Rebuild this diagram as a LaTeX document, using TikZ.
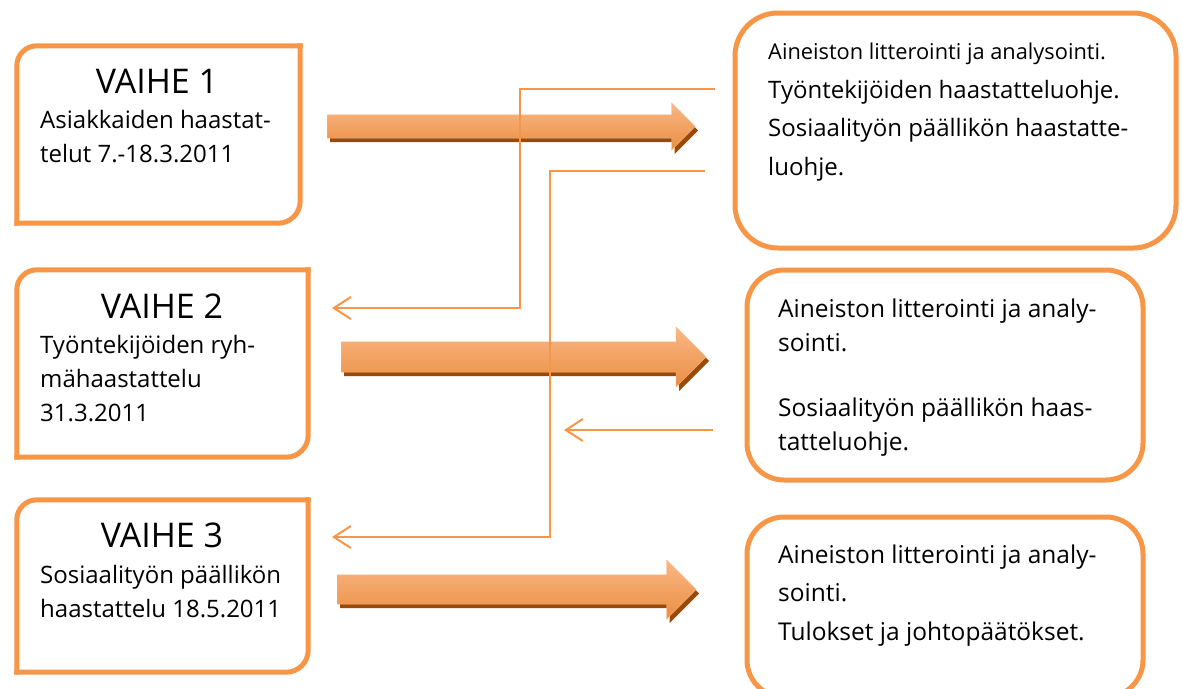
\documentclass[tikz,border=0pt]{standalone}
\usepackage{fontspec}
\setmainfont{Open Sans}
\usetikzlibrary{arrows.meta,positioning,shapes.arrows,shadows}
\definecolor{vorange}{HTML}{F79646}
\definecolor{vlight}{HTML}{FAB785}
\definecolor{vshadow}{HTML}{9A4A08}

\begin{document}
\begin{tikzpicture}[x=1pt, y=-1pt,
  frame/.style={draw=vorange, line width=5pt},
  lbox/.style={rectangle, minimum width=291, minimum height=187, inner sep=0pt},
  rbox/.style={frame, rectangle, inner sep=0pt},
  head/.style={anchor=base, font=\fontsize{34}{36}\selectfont},
  body/.style={anchor=base west, align=left, inner sep=0pt,
               font=\fontsize{24}{34}\selectfont},
  bigarrow/.style={single arrow, single arrow head indent=0pt, inner sep=0pt,
               anchor=tail,
               top color=vlight, middle color=vorange, bottom color=vorange!95!black,
               draw=vlight, thin,
               drop shadow={shadow xshift=3pt, shadow yshift=-4pt,
                            fill=vshadow, opacity=1}},
  link/.style={draw=vorange, line width=2pt,
               -{Straight Barb[length=17pt, width=22pt, line width=2pt]}},
]
  \useasboundingbox (0,0) rectangle (1183,688);

  % left boxes
  \node[lbox, minimum width=283, minimum height=177] (v1) at (158.5,134.5) {};
  \node[lbox] (v2) at (162.5,363.5) {};
  \node[lbox, minimum height=172] (v3) at (162.5,586) {};
  \foreach \b in {v1,v2,v3} {
    \draw[frame, line cap=rect, rounded corners=20pt]
      (\b.north east) -- (\b.north west) -- (\b.south west);
    \draw[frame, line cap=rect, rounded corners=22pt]
      (\b.south west) -- (\b.south east) -- (\b.north east);
  }

  % right boxes
  \node[rbox, minimum width=441, minimum height=235, rounded corners=43pt]
    (r1) at (955.5,130.5) {};
  \node[rbox, minimum width=396, minimum height=210, rounded corners=37pt]
    (r2) at (945,375) {};
  \node[rbox, minimum width=396, minimum height=180, rounded corners=37pt]
    (r3) at (945,607) {};

  % texts (body nodes sit on their last baseline)
  \node[head] (h1) at (157,93) {VAIHE 1};
  \node[body] (t1) at (40,162) {Asiakkaiden haastat-\\telut 7.-18.3.2011};
  \node[head] (h2) at (162,318) {VAIHE 2};
  \node[body] (t2) at (40,421) {Työntekijöiden ryh-\\mähaastattelu\\31.3.2011};
  \node[head] (h3) at (162,547) {VAIHE 3};
  \node[body] (t3) at (40,617) {Sosiaalityön päällikön\\haastattelu 18.5.2011};

  \node[body, font=\fontsize{24}{38.5}\selectfont] (s1) at (768,175)
    {{\fontsize{21.8}{24}\selectfont Aineiston litterointi ja analysointi.}\\
     Työntekijöiden haastatteluohje.\\
     Sosiaalityön päällikön haastatte-\\luohje.};
  \node[body, font=\fontsize{24.5}{34}\selectfont] (s2) at (778,450)
    {Aineiston litterointi ja analy-\\sointi.\\[31pt]
     Sosiaalityön päällikön haas-\\tatteluohje.};
  \node[body, font=\fontsize{24.5}{38.5}\selectfont] (s3) at (778,640)
    {Aineiston litterointi ja analy-\\sointi.\\Tulokset ja johtopäätökset.};

  % big arrows
  \node[bigarrow, minimum height=368, text height=11.5pt, text depth=11.5pt,
        single arrow head extend=12pt] (a1) at (327,126.5) {};
  \node[bigarrow, minimum height=365, text height=15pt, text depth=15pt,
        single arrow head extend=15pt] (a2) at (341,357) {};
  \node[bigarrow, minimum height=359, text height=14.5pt, text depth=14.5pt,
        single arrow head extend=15pt] (a3) at (337,589.5) {};

  % feedback lines
  \coordinate (fa) at (715,89);
  \coordinate (ka) at (520,308);
  \coordinate (ea) at (332,308);
  \coordinate (fb) at (705,171);
  \coordinate (kb) at (550,537);
  \coordinate (eb) at (332,537);
  \coordinate (fc) at (713,430);
  \coordinate (ec) at (564,430);
  \draw[link] (fa) -| (ka) -- (ea);
  \draw[link] (fb) -| (kb) -- (eb);
  \draw[link] (fc) -- (ec);
\end{tikzpicture}
\end{document}
